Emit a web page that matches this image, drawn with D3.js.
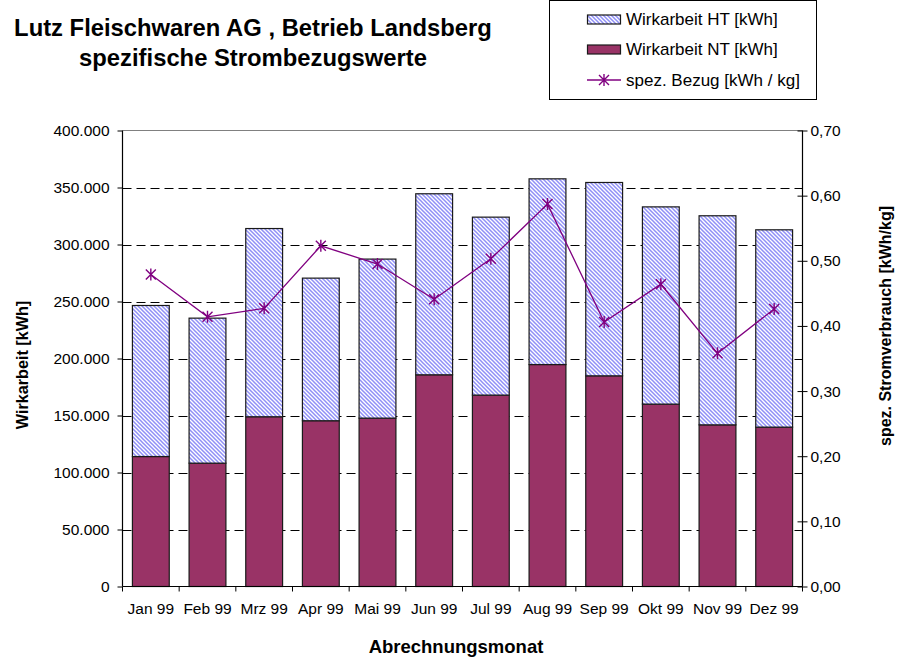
<!DOCTYPE html>
<html>
<head>
<meta charset="utf-8">
<script src="https://cdn.jsdelivr.net/npm/d3@7"></script>
<style>
  html, body { margin: 0; padding: 0; background: #ffffff; }
  svg { display: block; }
</style>
</head>
<body>
<svg id="chart" width="901" height="662"></svg>
<script>
const months = ['Jan 99', 'Feb 99', 'Mrz 99', 'Apr 99', 'Mai 99', 'Jun 99',
  'Jul 99', 'Aug 99', 'Sep 99', 'Okt 99', 'Nov 99', 'Dez 99'];
const ntValues = [114000, 108200, 148900, 145400, 147700, 185700,
  167900, 194700, 184800, 160000, 141800, 139800];
const htValues = [132500, 127200, 165100, 125100, 139500, 158800,
  156100, 162900, 169600, 173000, 183400, 173100];
const spezValues = [0.479, 0.414, 0.427, 0.523, 0.495, 0.441,
  0.503, 0.587, 0.406, 0.464, 0.358, 0.426];
const leftTicks = [0, 50000, 100000, 150000, 200000, 250000, 300000, 350000, 400000];
const rightTicks = [0, 0.1, 0.2, 0.3, 0.4, 0.5, 0.6, 0.7];
const legendLabels = ['Wirkarbeit HT [kWh]', 'Wirkarbeit NT [kWh]', 'spez. Bezug [kWh / kg]'];

const FONT = 'Liberation Sans, Arial, sans-serif';
const NT_COLOR = '#993366';
const HT_COLOR = '#8f8ff7';
const LINE_COLOR = '#800080';

const plot = { left: 122.5, right: 802.5, top: 130.5, bottom: 586.5 };

const de = d3.formatLocale({ decimal: ',', thousands: '.', grouping: [3], currency: ['', ' €'] });
const fmtLeft = de.format(',.0f');
const fmtRight = de.format(',.2f');

const svg = d3.select('#chart');

const defs = svg.append('defs');
const pat = defs.append('pattern')
  .attr('id', 'hatch')
  .attr('patternUnits', 'userSpaceOnUse')
  .attr('width', 4)
  .attr('height', 4);
pat.append('rect').attr('width', 4).attr('height', 4).attr('fill', '#ffffff');
pat.append('path')
  .attr('d', 'M-1,-1 L5,5 M-1,3 L1,5 M3,-1 L5,1')
  .attr('stroke', HT_COLOR)
  .attr('stroke-width', 1.5);

const x = d3.scaleBand()
  .domain(months)
  .range([plot.left, plot.right])
  .paddingInner(0.35)
  .paddingOuter(0.175);

const y = d3.scaleLinear().domain([0, 400000]).range([plot.bottom, plot.top]);
const y2 = d3.scaleLinear().domain([0, 0.7]).range([plot.bottom, plot.top]);

// gridlines
svg.append('g')
  .selectAll('line')
  .data(leftTicks.filter(d => d > 0 && d < 400000))
  .join('line')
  .attr('x1', plot.left)
  .attr('x2', plot.right)
  .attr('y1', d => Math.round(y(d)) + 0.5)
  .attr('y2', d => Math.round(y(d)) + 0.5)
  .attr('stroke', '#000000')
  .attr('stroke-width', 1)
  .attr('stroke-dasharray', '9,5');

svg.append('line')
  .attr('x1', plot.left).attr('x2', plot.right)
  .attr('y1', plot.top).attr('y2', plot.top)
  .attr('stroke', '#808080')
  .attr('stroke-width', 1);

// stacked bars
const rows = months.map((m, i) => ({ month: m, nt: ntValues[i], ht: htValues[i] }));
const stacked = d3.stack().keys(['nt', 'ht'])(rows);
const fills = { nt: NT_COLOR, ht: 'url(#hatch)' };

svg.append('g')
  .selectAll('g')
  .data(stacked)
  .join('g')
  .attr('fill', d => fills[d.key])
  .selectAll('rect')
  .data(d => d)
  .join('rect')
  .attr('x', d => x(d.data.month))
  .attr('y', d => y(d[1]))
  .attr('width', x.bandwidth())
  .attr('height', d => y(d[0]) - y(d[1]))
  .attr('stroke', '#1a1a1a')
  .attr('stroke-width', 1.2);

// axes
const leftAxis = svg.append('g')
  .attr('transform', `translate(${plot.left},0)`)
  .call(d3.axisLeft(y).tickValues(leftTicks).tickFormat(fmtLeft).tickSize(5).tickPadding(8));

const rightAxis = svg.append('g')
  .attr('transform', `translate(${plot.right},0)`)
  .call(d3.axisRight(y2).tickValues(rightTicks).tickFormat(fmtRight).tickSize(5).tickPadding(3));
rightAxis.selectAll('.tick line').attr('x1', -5);

const bottomAxis = svg.append('g')
  .attr('transform', `translate(0,${plot.bottom})`)
  .call(d3.axisBottom(x).tickSize(0).tickPadding(16));

bottomAxis.selectAll('.boundary')
  .data(d3.range(months.length + 1))
  .join('line')
  .attr('class', 'boundary')
  .attr('x1', i => plot.left + i * x.step())
  .attr('x2', i => plot.left + i * x.step())
  .attr('y1', 0)
  .attr('y2', 5)
  .attr('stroke', '#000000');

[leftAxis, rightAxis, bottomAxis].forEach(g => {
  g.select('.domain').attr('stroke', '#000000').attr('stroke-width', 1.2);
  g.selectAll('.tick line').attr('stroke', '#000000');
  g.selectAll('text')
    .attr('font-family', FONT)
    .attr('font-size', 15.5)
    .attr('fill', '#000000');
});
leftAxis.select('.domain').attr('d', `M0,${plot.top}V${plot.bottom}`);
rightAxis.select('.domain').attr('d', `M0,${plot.top}V${plot.bottom}`);
bottomAxis.select('.domain').attr('d', `M${plot.left},0H${plot.right}`);

// line series
const line = d3.line()
  .x((d, i) => x(months[i]) + x.bandwidth() / 2)
  .y(d => y2(d));

svg.append('path')
  .datum(spezValues)
  .attr('d', line)
  .attr('fill', 'none')
  .attr('stroke', LINE_COLOR)
  .attr('stroke-width', 1.3);

function star(g, cx, cy) {
  const r = 5;
  g.append('path')
    .attr('d', `M${cx - r},${cy - r}L${cx + r},${cy + r}M${cx - r},${cy + r}L${cx + r},${cy - r}M${cx},${cy - r - 1}L${cx},${cy + r + 1}`)
    .attr('stroke', LINE_COLOR)
    .attr('stroke-width', 1.4)
    .attr('fill', 'none');
}

const markers = svg.append('g');
spezValues.forEach((v, i) => {
  star(markers, x(months[i]) + x.bandwidth() / 2, y2(v));
});

// titles
const title = svg.append('text')
  .attr('x', 253)
  .attr('y', 36)
  .attr('text-anchor', 'middle')
  .attr('font-family', FONT)
  .attr('font-size', 23.8)
  .attr('font-weight', 700)
  .attr('fill', '#000000');
title.append('tspan').attr('x', 253).attr('dy', 0).text('Lutz Fleischwaren AG , Betrieb Landsberg');
title.append('tspan').attr('x', 253).attr('dy', 30).text('spezifische Strombezugswerte');

svg.append('text')
  .attr('x', 456)
  .attr('y', 653)
  .attr('text-anchor', 'middle')
  .attr('font-family', FONT)
  .attr('font-size', 18.5)
  .attr('font-weight', 700)
  .text('Abrechnungsmonat');

svg.append('text')
  .attr('transform', 'translate(28,365) rotate(-90)')
  .attr('text-anchor', 'middle')
  .attr('font-family', FONT)
  .attr('font-size', 16.2)
  .attr('font-weight', 700)
  .text('Wirkarbeit [kWh]');

svg.append('text')
  .attr('transform', 'translate(891,326) rotate(-90)')
  .attr('text-anchor', 'middle')
  .attr('font-family', FONT)
  .attr('font-size', 16)
  .attr('font-weight', 700)
  .text('spez. Stromverbrauch [kWh/kg]');

// legend
const legend = svg.append('g');
legend.append('rect')
  .attr('x', 549.5)
  .attr('y', 0.5)
  .attr('width', 267)
  .attr('height', 99)
  .attr('fill', '#ffffff')
  .attr('stroke', '#000000')
  .attr('stroke-width', 1);

const legendY = [19.5, 49.5, 80];
legendLabels.forEach((label, i) => {
  const cy = legendY[i];
  if (i < 2) {
    legend.append('rect')
      .attr('x', 587.5)
      .attr('y', cy - 4.5)
      .attr('width', 33)
      .attr('height', 9)
      .attr('fill', i === 0 ? 'url(#hatch)' : NT_COLOR)
      .attr('stroke', '#1a1a1a')
      .attr('stroke-width', 1.2);
  } else {
    legend.append('line')
      .attr('x1', 587).attr('x2', 621)
      .attr('y1', cy).attr('y2', cy)
      .attr('stroke', LINE_COLOR)
      .attr('stroke-width', 1.3);
    star(legend, 604, cy);
  }
  legend.append('text')
    .attr('x', 626)
    .attr('y', cy)
    .attr('dy', '0.35em')
    .attr('font-family', FONT)
    .attr('font-size', 17)
    .attr('fill', '#000000')
    .text(label);
});
</script>
</body>
</html>
